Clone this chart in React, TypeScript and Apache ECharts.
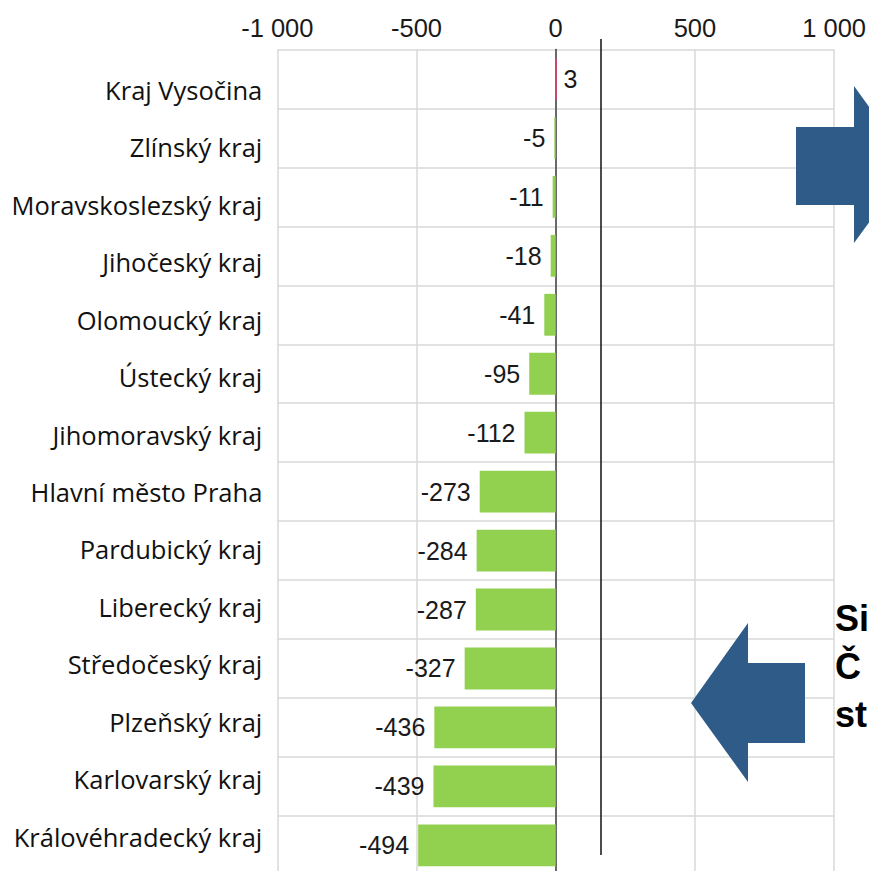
import React, { useEffect, useRef } from "react";
import * as echarts from "echarts";

const CATEGORIES = [
  "Kraj Vysočina",
  "Zlínský kraj",
  "Moravskoslezský kraj",
  "Jihočeský kraj",
  "Olomoucký kraj",
  "Ústecký kraj",
  "Jihomoravský kraj",
  "Hlavní město Praha",
  "Pardubický kraj",
  "Liberecký kraj",
  "Středočeský kraj",
  "Plzeňský kraj",
  "Karlovarský kraj",
  "Královéhradecký kraj",
];
const VALUES = [3, -5, -11, -18, -41, -95, -112, -273, -284, -287, -327, -436, -439, -494];
const AXIS_MIN = -1000;
const AXIS_MAX = 1000;
const AXIS_INTERVAL = 500;
const REFERENCE_VALUE = 161;
const SIDE_TEXT = "Si\nČ\nst";

const POS_COLOR = "#D9436C";
const NEG_COLOR = "#92D050";
const GRID_COLOR = "#d9d9d9";
const ARROW_COLOR = "#2F5B88";
const TEXT_COLOR = "#1a1a1a";

const fmtTick = (v: number) => {
  const s = Math.abs(v).toString().replace(/\B(?=(\d{3})+(?!\d))/g, " ");
  return (v < 0 ? "-" : "") + s;
};

export default function App() {
  const ref = useRef<HTMLDivElement>(null);
  useEffect(() => {
    if (!ref.current) return;
    const chart = echarts.init(ref.current, undefined, { renderer: "svg" });
    const L = 277.3;
    const R = 869 - 834.3;
    chart.setOption({
      animation: false,
      backgroundColor: "#ffffff",
      grid: [
        { left: L, right: R, top: 49.5, height: 825.3 },
        { left: 0, width: L, top: 61, height: 804.5 },
        { left: L, right: R, top: 39, height: 816 },
      ],
      xAxis: [
        {
          gridIndex: 0,
          type: "value",
          position: "top",
          min: AXIS_MIN,
          max: AXIS_MAX,
          interval: AXIS_INTERVAL,
          axisLine: { show: false },
          axisTick: { show: false },
          splitLine: { show: true, lineStyle: { color: GRID_COLOR, width: 1.5 } },
          axisLabel: {
            formatter: fmtTick,
            fontSize: 25.5,
            color: TEXT_COLOR,
            fontFamily: "Liberation Sans, Arial, sans-serif",
            margin: 9,
          },
        },
        { gridIndex: 1, type: "value", min: 0, max: 1, show: false },
        { gridIndex: 2, type: "value", min: AXIS_MIN, max: AXIS_MAX, show: false },
      ],
      yAxis: [
        {
          gridIndex: 0,
          type: "category",
          data: CATEGORIES,
          inverse: true,
          axisLabel: { show: false },
          axisTick: { show: false },
          axisLine: { show: true, onZero: true, lineStyle: { color: "#404040", width: 1.5 } },
          splitLine: { show: true, lineStyle: { color: GRID_COLOR, width: 1.5 } },
        },
        {
          gridIndex: 1,
          type: "category",
          data: CATEGORIES,
          inverse: true,
          axisLine: { show: false },
          axisTick: { show: false },
          splitLine: { show: false },
          axisLabel: {
            fontSize: 25.5,
            color: "#111111",
            fontFamily: "Open Sans, Noto Sans, sans-serif",
            margin: 15,
          },
        },
        { gridIndex: 2, type: "value", min: 0, max: 1, show: false },
      ],
      series: [
        {
          type: "bar",
          xAxisIndex: 0,
          yAxisIndex: 0,
          barCategoryGap: "29%",
          data: VALUES.map((v) => ({
            value: v,
            itemStyle:
              v >= 0
                ? { color: POS_COLOR, borderColor: POS_COLOR, borderWidth: 1 }
                : { color: NEG_COLOR },
            label: { position: v >= 0 ? "right" : "left", distance: v >= 0 ? 7 : 9 },
          })),
          label: {
            show: true,
            formatter: "{c}",
            fontSize: 25,
            color: TEXT_COLOR,
            fontFamily: "Liberation Sans, Arial, sans-serif",
          },
        },
        {
          type: "scatter",
          xAxisIndex: 2,
          yAxisIndex: 2,
          data: [],
          markLine: {
            silent: true,
            symbol: "none",
            label: { show: false },
            lineStyle: { color: "#111111", width: 1.5, type: "solid" },
            data: [{ xAxis: REFERENCE_VALUE }],
          },
        },
      ],
      graphic: [
        {
          type: "polygon",
          z: 100,
          shape: {
            points: [
              [796, 127],
              [854, 127],
              [854, 86],
              [911, 165],
              [854, 243],
              [854, 205],
              [796, 205],
            ],
          },
          style: { fill: ARROW_COLOR },
        },
        {
          type: "polygon",
          z: 100,
          shape: {
            points: [
              [805, 663],
              [748, 663],
              [748, 623],
              [691, 703],
              [748, 782],
              [748, 743],
              [805, 743],
            ],
          },
          style: { fill: ARROW_COLOR },
        },
        {
          type: "text",
          z: 100,
          x: 835,
          y: 594,
          style: {
            text: SIDE_TEXT,
            font: "bold 36px 'Liberation Sans', Arial, sans-serif",
            fill: "#000000",
            lineHeight: 48,
            verticalAlign: "top",
          },
        },
      ],
    });
    return () => chart.dispose();
  }, []);
  return (
    <div
      style={{
        position: "fixed",
        left: 0,
        top: 0,
        width: 869,
        height: 871,
        overflow: "hidden",
        background: "#fff",
      }}
    >
      <div ref={ref} style={{ width: 869, height: 880 }} />
    </div>
  );
}
